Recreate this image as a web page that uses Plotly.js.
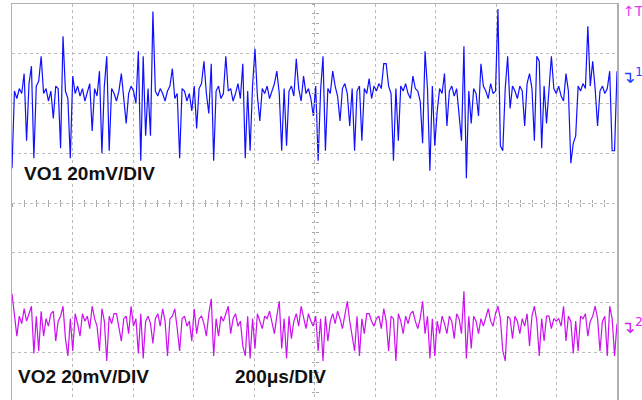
<!DOCTYPE html>
<html>
<head>
<meta charset="utf-8">
<script src="https://cdn.plot.ly/plotly-3.0.1.min.js"></script>
<style>
html,body{margin:0;padding:0;background:#fff;overflow:hidden;}
#chart{width:642px;height:402px;}
</style>
</head>
<body>
<div id="chart"></div>
<script>
// Oscilloscope capture: 10 horizontal divisions x 200 us, 8 vertical divisions x 20 mV
const timePerDiv = 200;      // us
const voltsPerDiv = 20;      // mV
const ch1Offset = 44;        // mV, screen position of channel 1
const ch2Offset = -47.5;     // mV, screen position of channel 2
const ch1Label = "VO1 20mV/DIV";
const ch2Label = "VO2 20mV/DIV";
const timeLabel = "200\u03bcs/DIV";

// channel 1 ripple (mV), equally spaced samples across the screen
const vo1 = [
 -30, 1, -2, 2, 0, 8, -19, 4, 11, -26,
 3, 5, 15, 0, 2, -3, 1, -10, 3, 2,
 -22, 23, 1, -2, -26, 7, 0, 3, -1, 2,
 -3, 1, 4, -15, 2, -1, 9, -24, 3, 15,
 -23, 2, 0, -3, 1, 8, -2, -12, 0, 3,
 1, -4, 17, -27, 15, -17, 2, -17, 33, 1,
 -1, 2, 0, -3, 1, 3, 10, -2, 0, -26,
 2, 1, -3, 0, -7, 3, -14, 2, 4, 13,
 0, -8, 12, -27, 1, 3, -2, 0, 15, 1,
 2, -3, 0, 4, -2, 12, -26, 1, -23, 3,
 18, -1, -11, 2, 0, 3, -2, 1, 4, 9,
 0, -23, 2, -21, 1, 3, -1, 14, 2, -3,
 7, 0, 2, -2, -9, 3, -27, 1, 15, -23,
 2, 0, 9, 3, -1, -11, 2, 4, 0, -13,
 2, -23, 1, 3, -19, 2, 0, 6, -2, 3,
 1, 4, 2, 12, 12, 3, 0, -27, 2, -19,
 3, 1, 4, 0, -2, 7, 2, 1, -3, -20,
 17, 2, -31, 3, -21, -7, 2, 0, 8, -13,
 1, 3, -1, 2, -9, -19, 19, -34, 1, -12,
 2, 0, -9, 12, 3, 1, -2, 4, 0, 1,
 34, -21, -23, 2, 15, -6, 3, 1, -2, 3,
 1, -13, 4, 8, 2, -19, 15, 13, -22, 3,
 -12, 1, 15, 2, 0, 3, -1, -3, 8, 1,
 -28, -20, -17, 3, 1, 4, 2, 27, 3, 13,
 2, -13, 1, 3, 0, 2, 9, -23, -23, 9
];

// channel 2 ripple (mV)
const vo2 = [
 11, 1, -6, 2, -1, 5, 0, 3, 6, -13,
 2, -12, 4, -6, 1, -2, 3, 4, -8, 0,
 2, 6, -7, -14, 1, -12, 3, -1, -6, 3,
 0, 2, -3, 6, 1, -2, -12, 5, 0, -16,
 2, -1, 3, 3, -2, -8, 1, 2, -5, 6,
 -2, 1, -13, 3, -15, 0, 2, -1, -9, 1,
 3, -2, 5, 0, -14, 1, 2, 5, -3, -12,
 1, 2, -2, 0, -8, 5, -5, 1, 2, -1,
 -6, 3, 9, -14, 1, -6, 2, 0, 3, 6,
 -5, 1, 3, -2, 0, -10, -14, 2, -15, 1,
 -11, 3, 0, -3, 2, 1, 4, -1, -5, 2,
 8, -11, 1, -15, 2, -7, 0, 3, -2, 6,
 1, -3, 3, 0, -2, 2, -12, 1, -16, 2,
 -8, 0, 3, -1, 4, 1, -3, 2, 8, 0,
 -6, -12, 2, -14, 1, -5, 3, 3, 0, -2,
 1, 2, -3, 5, 0, -12, 2, 1, -16, 3,
 0, -5, 2, -1, 3, 4, 0, -3, 1, 8,
 -5, 2, -15, 1, -14, 0, -5, 2, -1, -5,
 2, 0, -7, 3, 1, -5, 12, -15, 2, -11,
 2, 0, -5, 1, -2, 2, 5, 0, -2, 3,
 6, 1, -12, -16, 2, 1, -7, 2, 0, -5,
 1, -2, 3, -10, 2, 6, 0, -14, 1, -8,
 2, 2, -3, 1, 0, 1, -2, 6, -8, 2,
 0, -13, 0, -12, 2, 1, 3, -6, 0, 2,
 6, 1, -12, 0, 2, -14, 6, 1, -14, -1
];

const span = timePerDiv * 10;
const vHalf = voltsPerDiv * 4;
const grid = '#bcbcbc';

const traces = [
  {type:'scatter', mode:'lines', x0:0, dx:span/(vo1.length-1),
   y: vo1.map(v => v + ch1Offset), line:{color:'#1010ff', width:1.2}, hoverinfo:'skip'},
  {type:'scatter', mode:'lines', x0:0, dx:span/(vo2.length-1),
   y: vo2.map(v => v + ch2Offset), line:{color:'#cc10f0', width:1.2}, hoverinfo:'skip'},
  {type:'scatter', mode:'lines', x:[], y:[], xaxis:'x2', yaxis:'y'},
  {type:'scatter', mode:'lines', x:[], y:[], xaxis:'x3', yaxis:'y'},
  {type:'scatter', mode:'lines', x:[], y:[], xaxis:'x', yaxis:'y2'},
  {type:'scatter', mode:'lines', x:[], y:[], xaxis:'x', yaxis:'y3'}
];

const baseAx = {showticklabels:false, zeroline:false, showgrid:false, showline:false,
  ticklen:3, tickwidth:1, tickcolor:'#a8a8a8', fixedrange:true};

const font = {family:'Liberation Sans, Arial, sans-serif', size:19, color:'#111'};

const layout = {
  width:642, height:402,
  margin:{l:12, r:25, t:4, b:0, pad:0},
  paper_bgcolor:'#fff', plot_bgcolor:'#fff',
  showlegend:false, hovermode:false,
  xaxis:{range:[0,span], tick0:0, dtick:timePerDiv, showgrid:true, gridcolor:grid, griddash:'dot', gridwidth:1,
    showline:true, mirror:true, linecolor:'#b0b0b0', linewidth:1.5, zeroline:false, showticklabels:false, ticks:'', fixedrange:true},
  yaxis:{range:[-vHalf,vHalf], tick0:0, dtick:voltsPerDiv, showgrid:true, gridcolor:grid, griddash:'dot', gridwidth:1,
    showline:true, mirror:true, linecolor:'#b0b0b0', linewidth:1.5, zeroline:false, showticklabels:false, ticks:'', fixedrange:true},
  xaxis2:Object.assign({}, baseAx, {overlaying:'x', anchor:'free', position:0.5, range:[0,span], tick0:0, dtick:timePerDiv/5, ticks:'outside'}),
  xaxis3:Object.assign({}, baseAx, {overlaying:'x', anchor:'free', position:0.5, range:[0,span], tick0:0, dtick:timePerDiv/5, ticks:'inside'}),
  yaxis2:Object.assign({}, baseAx, {overlaying:'y', anchor:'free', position:0.5, range:[-vHalf,vHalf], tick0:0, dtick:voltsPerDiv/5, ticks:'outside'}),
  yaxis3:Object.assign({}, baseAx, {overlaying:'y', anchor:'free', position:0.5, range:[-vHalf,vHalf], tick0:0, dtick:voltsPerDiv/5, ticks:'inside'}),
  annotations:[
    {text:'<b>'+ch1Label+'</b>', xref:'paper', yref:'paper', x:0.0165, y:0.574, xanchor:'left', yanchor:'middle', showarrow:false, font:font},
    {text:'<b>'+ch2Label+'</b>', xref:'paper', yref:'paper', x:0.007, y:0.064, xanchor:'left', yanchor:'middle', showarrow:false, font:font},
    {text:'<b>'+timeLabel+'</b>', xref:'paper', yref:'paper', x:0.365, y:0.064, xanchor:'left', yanchor:'middle', showarrow:false, font:font},
    {text:'\u2191T', xref:'paper', yref:'paper', x:1.007, y:0.982, xanchor:'left', yanchor:'middle', showarrow:false,
      font:{family:'DejaVu Sans, sans-serif', size:14, color:'#e040f0'}},
    {text:'\u21b4<sup>1</sup>', xref:'paper', yref:'paper', x:1.003, y:0.82, xanchor:'left', yanchor:'middle', showarrow:false,
      font:{family:'DejaVu Sans, sans-serif', size:17, color:'#2040ff'}},
    {text:'\u21b4<sup>2</sup>', xref:'paper', yref:'paper', x:1.003, y:0.19, xanchor:'left', yanchor:'middle', showarrow:false,
      font:{family:'DejaVu Sans, sans-serif', size:17, color:'#d020f0'}}
  ]
};

Plotly.newPlot('chart', traces, layout, {staticPlot:true, displayModeBar:false});
</script>
</body>
</html>
